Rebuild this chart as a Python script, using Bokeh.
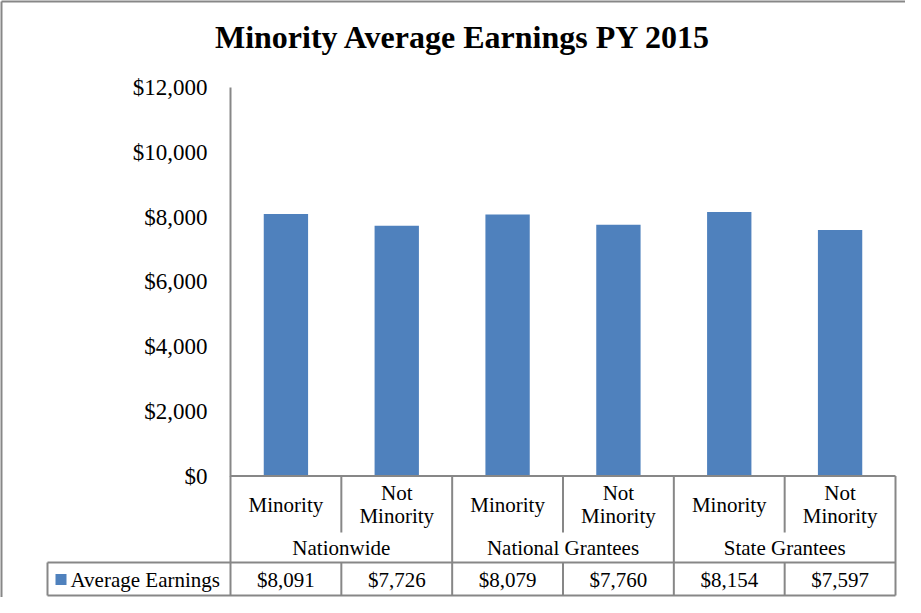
from bokeh.plotting import figure
from bokeh.models import Range1d, FixedTicker, ColumnDataSource
from bokeh.core.properties import value
from bokeh.embed import file_html
from bokeh.resources import INLINE

# ---------------- data ----------------
title_text = "Minority Average Earnings PY 2015"
groups = ["Nationwide", "National Grantees", "State Grantees"]
categories = ["Minority", "Not Minority", "Minority", "Not Minority", "Minority", "Not Minority"]
series_name = "Average Earnings"
earnings = [8091, 7726, 8079, 7760, 8154, 7597]
value_labels = ["$8,091", "$7,726", "$8,079", "$7,760", "$8,154", "$7,597"]
tick_values = [0, 2000, 4000, 6000, 8000, 10000, 12000]
tick_labels = ["$0", "$2,000", "$4,000", "$6,000", "$8,000", "$10,000", "$12,000"]

# ---------------- layout (pixels in figure space) ----------------
W, H = 905, 597
FRAME_L, FRAME_R = 230, 895
FRAME_T = 87
ZERO = 475.5
n = len(categories)
per_group = n // len(groups)
y_top = tick_values[-1]
upp = y_top / (ZERO - FRAME_T)          # data units per pixel (y)
y_bottom = -(H - ZERO) * upp
xupp = n / (FRAME_R - FRAME_L)          # data units per pixel (x)

def xd(fx):
    return (fx - FRAME_L) * xupp

def yfig(fy):
    return (ZERO - fy) * upp

def yoff(off):
    return -off * upp

ROW1, ROW2, ROW3 = 56.5, 86.5, 119.5     # table row boundaries below the zero line
CAT_Y, GRP_Y, VAL_Y = 28.5, 71.5, 103.5
LEG_L = 47

GRAY = "#878787"
BLUE = "#4F81BD"
FONT = "Liberation Serif"

p = figure(width=W, height=H, output_backend="svg", toolbar_location=None,
           x_range=Range1d(0, n), y_range=Range1d(y_bottom, y_top),
           x_axis_location=None, min_border_left=FRAME_L, min_border_right=W - FRAME_R,
           min_border_top=FRAME_T, min_border_bottom=0)
p.grid.visible = False
p.outline_line_color = None
p.background_fill_color = "white"
p.border_fill_color = "white"

# y axis
ax = p.yaxis[0]
ax.ticker = FixedTicker(ticks=tick_values)
ax.major_label_overrides = {v: l for v, l in zip(tick_values, tick_labels)}
ax.bounds = (0, y_top)
ax.major_tick_line_color = None
ax.minor_tick_line_color = None
ax.major_tick_out = 0
ax.major_tick_in = 0
ax.major_label_standoff = 23
ax.axis_line_color = GRAY
ax.axis_line_width = 2
ax.major_label_text_font = FONT
ax.major_label_text_font_size = "23px"
ax.major_label_text_color = "black"

# bars
xs = [i + 0.5 for i in range(n)]
src = ColumnDataSource(dict(x=xs, top=earnings, cat=categories, val=value_labels,
                            lab=[c.replace(" ", "\n") for c in categories]))
p.vbar(x="x", top="top", bottom=0, width=0.4, source=src, fill_color=BLUE, line_color=None)

# table lines
x0s, y0s, x1s, y1s = [], [], [], []
def seg(a, b, c, d):
    x0s.append(a); y0s.append(b); x1s.append(c); y1s.append(d)

seg(0, 0, n, 0)
seg(xd(LEG_L), yoff(ROW2), n, yoff(ROW2))
seg(xd(LEG_L), yoff(ROW3), n, yoff(ROW3))
seg(0, 0, 0, yoff(ROW3))
seg(xd(LEG_L), yoff(ROW2), xd(LEG_L), yoff(ROW3))
for i in range(1, n + 1):
    if i % per_group == 0:
        seg(i, 0, i, yoff(ROW3))
    else:
        seg(i, 0, i, yoff(ROW1))
        seg(i, yoff(ROW2), i, yoff(ROW3))
# outer chart border
seg(xd(1), yfig(1), xd(W), yfig(1))
seg(xd(1), yfig(1), xd(1), yfig(H))
p.segment(x0=x0s, y0=y0s, x1=x1s, y1=y1s, line_color=GRAY, line_width=2, level="overlay")

# table texts
p.text(x="x", y=yoff(CAT_Y), text="lab", source=src, text_font=value(FONT),
       text_font_size=value("21px"), text_align="center", text_baseline="middle",
       text_line_height=0.95, text_color="black", level="overlay")
p.text(x="x", y=yoff(VAL_Y), text="val", source=src, text_font=value(FONT),
       text_font_size=value("21px"), text_align="center", text_baseline="middle",
       text_color="black", level="overlay")
gx = [g * per_group + per_group / 2 for g in range(len(groups))]
p.text(x=gx, y=[yoff(GRP_Y)] * len(groups), text=groups, text_font=value(FONT),
       text_font_size=value("21px"), text_align="center", text_baseline="middle",
       text_color="black", level="overlay")

# legend key cell
kl, kr = xd(55), xd(66)
kb, kt = yoff(VAL_Y + 5.5), yoff(VAL_Y - 5.5)
p.patch(x=[kl, kr, kr, kl], y=[kb, kb, kt, kt], fill_color=BLUE, line_color=None,
        level="overlay")
p.text(x=[xd(70)], y=[yoff(VAL_Y)], text=[series_name], text_font=value(FONT),
       text_font_size=value("21px"), text_align="left", text_baseline="middle",
       text_color="black", level="overlay")

# title
p.text(x=[xd(463)], y=[yfig(36)], text=[title_text], text_align="center",
       text_baseline="alphabetic", text_font=value(FONT), text_font_size=value("32px"),
       text_font_style="bold", text_color="black", level="overlay")

open("out.html", "w").write(file_html(p, INLINE))
